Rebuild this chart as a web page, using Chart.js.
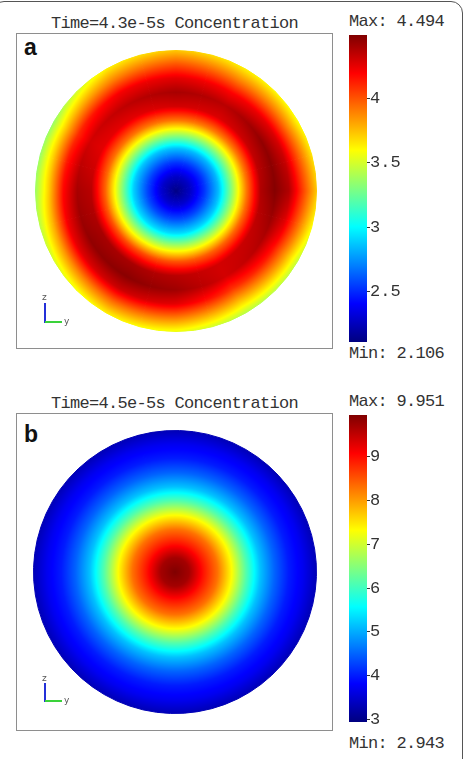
<!DOCTYPE html>
<html>
<head>
<meta charset="utf-8">
<script src="https://cdn.jsdelivr.net/npm/chart.js@4.4.1/dist/chart.umd.min.js"></script>
<style>
  body { margin: 0; width: 465px; height: 759px; overflow: hidden; position: relative; background: #fff; color: #333; }
  .frame { position: absolute; left: -8px; top: 1px; width: 471px; height: 800px; border: 1.5px solid #555; border-radius: 12px; box-sizing: border-box; }
  .box { position: absolute; left: 16px; width: 317px; border: 1px solid #8e8e8e; box-sizing: border-box; }
  .txt { position: absolute; font-family: "Liberation Mono", monospace; font-size: 17px; line-height: 17px; letter-spacing: -0.7px; white-space: nowrap; color: #333; }
  .title { left: 0; width: 349px; text-align: center; }
  .letter { position: absolute; left: 24px; font-family: "Liberation Sans", Arial, sans-serif; font-weight: bold; font-size: 23px; line-height: 23px; color: #111; }
  .ax-z { position: absolute; left: 44px; width: 2px; background: #2430d8; }
  .ax-y { position: absolute; left: 45px; width: 17px; height: 2px; background: #3ad23a; }
  .ax-t { position: absolute; font-family: "DejaVu Sans", sans-serif; font-size: 9px; line-height: 9px; color: #555; }
  canvas { position: absolute; }
</style>
</head>
<body>
<div class="frame"></div>

<div class="txt title" style="top:15px">Time=4.3e-5s Concentration</div>
<div class="txt" style="left:349px; top:13px">Max: 4.494</div>
<div class="txt" style="left:349px; top:345px">Min: 2.106</div>
<div class="box" style="top:33px; height:316px"></div>
<div class="letter" style="top:36px">a</div>
<canvas id="disc-a" width="282" height="282" style="left:35px; top:50px"></canvas>
<canvas id="bar-a" width="60" height="331" style="left:349px; top:23px"></canvas>
<div class="ax-t" style="left:42px; top:293px">z</div>
<div class="ax-z" style="top:303px; height:20px"></div>
<div class="ax-y" style="top:321px"></div>
<div class="ax-t" style="left:64px; top:317px">y</div>

<div class="txt title" style="top:395px">Time=4.5e-5s Concentration</div>
<div class="txt" style="left:349px; top:393px">Max: 9.951</div>
<div class="txt" style="left:349px; top:735px">Min: 2.943</div>
<div class="box" style="top:413px; height:318px"></div>
<div class="letter" style="top:423px">b</div>
<canvas id="disc-b" width="284" height="284" style="left:33px; top:430px"></canvas>
<canvas id="bar-b" width="60" height="331" style="left:349px; top:403px"></canvas>
<div class="ax-t" style="left:42px; top:674px">z</div>
<div class="ax-z" style="top:683px; height:19px"></div>
<div class="ax-y" style="top:700px"></div>
<div class="ax-t" style="left:64px; top:696px">y</div>

<script>
// relative radius (0 = centre, 1 = rim) at which the concentration was read
const radii = [0, 0.1, 0.2, 0.3, 0.4, 0.5, 0.6, 0.7, 0.8, 0.9, 1.0];

// panel a: one profile per 30deg direction, 0 = 12 o'clock, clockwise
const sectorSpanA = [30, 30, 30, 30, 30, 30, 30, 30, 30, 30, 30, 30];
const profilesA = [
  [2.12, 2.27, 2.52, 2.85, 3.38, 3.92, 4.30, 4.40, 4.26, 4.00, 3.72],
  [2.12, 2.27, 2.52, 2.84, 3.36, 3.90, 4.28, 4.36, 4.20, 3.90, 3.62],
  [2.12, 2.27, 2.51, 2.83, 3.35, 3.90, 4.33, 4.45, 4.28, 3.92, 3.58],
  [2.12, 2.27, 2.52, 2.84, 3.36, 3.92, 4.38, 4.48, 4.38, 4.05, 3.72],
  [2.12, 2.28, 2.55, 2.88, 3.40, 3.95, 4.33, 4.38, 4.16, 3.82, 3.45],
  [2.12, 2.29, 2.57, 2.91, 3.44, 3.97, 4.30, 4.30, 4.08, 3.75, 3.42],
  [2.12, 2.30, 2.58, 2.92, 3.46, 4.00, 4.36, 4.42, 4.26, 3.90, 3.55],
  [2.12, 2.30, 2.58, 2.92, 3.46, 4.02, 4.40, 4.47, 4.32, 3.95, 3.62],
  [2.12, 2.30, 2.57, 2.91, 3.44, 4.00, 4.40, 4.45, 4.26, 3.85, 3.50],
  [2.12, 2.29, 2.56, 2.89, 3.42, 3.96, 4.36, 4.40, 4.18, 3.72, 3.36],
  [2.12, 2.28, 2.55, 2.87, 3.40, 3.93, 4.26, 4.30, 4.10, 3.72, 3.35],
  [2.12, 2.28, 2.54, 2.86, 3.39, 3.92, 4.26, 4.35, 4.22, 3.90, 3.62],
];
const rangeA = [2.106, 4.494];
const ticksA = [2.5, 3, 3.5, 4];

// panel b: radially symmetric
const sectorSpanB = [360];
const profileB = [9.95, 9.70, 8.95, 8.30, 7.32, 6.15, 5.15, 4.50, 4.00, 3.72, 3.30];
const rangeB = [2.943, 9.951];
const ticksB = [3, 4, 5, 6, 7, 8, 9];

function jetRGB(t) {
  t = Math.max(0, Math.min(1, t));
  const c = (x) => Math.round(255 * Math.max(0, Math.min(1, 1.5 - Math.abs(x))));
  return [c(4 * t - 3), c(4 * t - 2), c(4 * t - 1)];
}
function jet(t) {
  const [r, g, b] = jetRGB(t);
  return `rgb(${r},${g},${b})`;
}

// concentration at (relative radius, angle) from the read profiles
function fieldValue(profiles, rel, deg) {
  const n = profiles.length;
  const s = (deg / 360) * n;
  const i0 = Math.floor(s) % n;
  const i1 = (i0 + 1) % n;
  const fa = s - Math.floor(s);
  let j = 0;
  while (j < radii.length - 2 && rel > radii[j + 1]) j++;
  const fr = Math.max(0, Math.min(1, (rel - radii[j]) / (radii[j + 1] - radii[j])));
  const at = (p) => p[j] + (p[j + 1] - p[j]) * fr;
  return at(profiles[i0]) * (1 - fa) + at(profiles[i1]) * fa;
}

function fieldPattern(chart, profiles, range) {
  if (chart.$field) return chart.$field;
  const area = chart.chartArea;
  const R = chart.getDatasetMeta(0).controller.outerRadius || Math.min(area.width, area.height) / 2;
  const cx = (area.left + area.right) / 2;
  const cy = (area.top + area.bottom) / 2;
  const w = chart.canvas.width, h = chart.canvas.height;
  const off = document.createElement("canvas");
  off.width = w; off.height = h;
  const octx = off.getContext("2d");
  const img = octx.createImageData(w, h);
  for (let y = 0; y < h; y++) {
    for (let x = 0; x < w; x++) {
      const dx = x + 0.5 - cx, dy = y + 0.5 - cy;
      const rel = Math.min(1, Math.sqrt(dx * dx + dy * dy) / R);
      let deg = Math.atan2(dx, -dy) * 180 / Math.PI;
      if (deg < 0) deg += 360;
      const v = fieldValue(profiles, rel, deg);
      const [r, g, b] = jetRGB((v - range[0]) / (range[1] - range[0]));
      const k = (y * w + x) * 4;
      img.data[k] = r; img.data[k + 1] = g; img.data[k + 2] = b; img.data[k + 3] = 255;
    }
  }
  octx.putImageData(img, 0, 0);
  chart.$field = chart.ctx.createPattern(off, "no-repeat");
  return chart.$field;
}

function discChart(id, spans, profiles, range) {
  const fill = (c) => (c.chart.chartArea ? fieldPattern(c.chart, profiles, range) : "#888");
  return new Chart(document.getElementById(id), {
    type: "pie",
    data: {
      labels: spans.map((_, i) => String(i)),
      datasets: [{ data: spans, backgroundColor: fill, borderColor: fill, borderWidth: 1 }],
    },
    options: {
      responsive: false,
      animation: false,
      events: [],
      rotation: -15,
      layout: { padding: 0 },
      plugins: { legend: { display: false }, tooltip: { enabled: false } },
    },
  });
}

function colorbar(id, range, tickValues) {
  return new Chart(document.getElementById(id), {
    type: "bar",
    data: {
      labels: [""],
      datasets: [{
        data: [range],
        barPercentage: 1,
        categoryPercentage: 1,
        borderWidth: 0,
        backgroundColor: (c) => {
          const area = c.chart.chartArea;
          if (!area) return "#888";
          const g = c.chart.ctx.createLinearGradient(0, area.bottom, 0, area.top);
          for (let i = 0; i <= 32; i++) g.addColorStop(i / 32, jet(i / 32));
          return g;
        },
      }],
    },
    options: {
      responsive: false,
      animation: false,
      events: [],
      layout: { padding: { top: 12, bottom: 12, left: 0, right: 0 } },
      plugins: { legend: { display: false }, tooltip: { enabled: false } },
      scales: {
        x: { display: false },
        y: {
          position: "right",
          min: range[0],
          max: range[1],
          afterBuildTicks: (scale) => { scale.ticks = tickValues.map((v) => ({ value: v })); },
          afterFit: (scale) => { scale.width = 42; },
          border: { display: false },
          grid: { drawOnChartArea: false, drawTicks: true, tickLength: 3, tickColor: "#333", tickWidth: 1 },
          ticks: {
            padding: 0,
            color: "#333",
            font: { family: "Liberation Mono", size: 17 },
            callback: (v) => String(v),
          },
        },
      },
    },
  });
}

discChart("disc-a", sectorSpanA, profilesA, rangeA);
discChart("disc-b", sectorSpanB, [profileB], rangeB);
colorbar("bar-a", rangeA, ticksA);
colorbar("bar-b", rangeB, ticksB);
</script>
</body>
</html>
